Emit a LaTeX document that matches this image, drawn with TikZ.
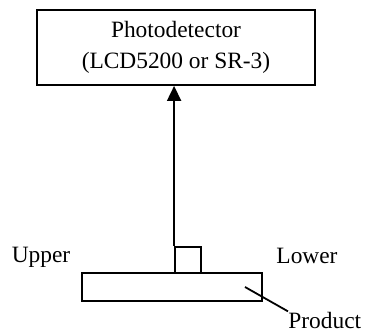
\documentclass[tikz,border=0pt]{standalone}
\usepackage{fontspec}
\setmainfont{Liberation Serif}
\usepackage{tikz}
\usetikzlibrary{arrows.meta, positioning}

\begin{document}
\begin{tikzpicture}[
  x=0.5pt, y=0.5pt,
  >={Triangle[length=7.5pt, width=7pt]},
  every node/.style={font=\fontsize{11.7}{15.5}\selectfont},
  boxed/.style={draw, line width=0.9pt, inner sep=0pt},
  lbl/.style={inner sep=0pt}
]
\useasboundingbox (0,0) rectangle (370,332);
% detector box
\node[boxed, minimum width=139pt, minimum height=37.5pt, align=center]
  (det) at (176,284.5) {Photodetector\\(LCD5200 or SR-3)};
% product and small square on top
\node[boxed, minimum width=90pt, minimum height=14pt] (prod) at (172,45) {};
\node[boxed, minimum size=13pt] (sq) at (188,72) {};
\coordinate (beam) at (sq.north west);
\draw[->, line width=0.9pt] (beam) -- (beam |- det.south);
% labels
\node[lbl] (upper) at (41,75) {Upper};
\node[lbl] (lower) at (307,76) {Lower};
\node[lbl, anchor=west] (plabel) at (288,12) {Product};
\coordinate (lead) at (245,45);
\draw[line width=0.9pt] (lead) -- (plabel.north west);
\end{tikzpicture}
\end{document}
